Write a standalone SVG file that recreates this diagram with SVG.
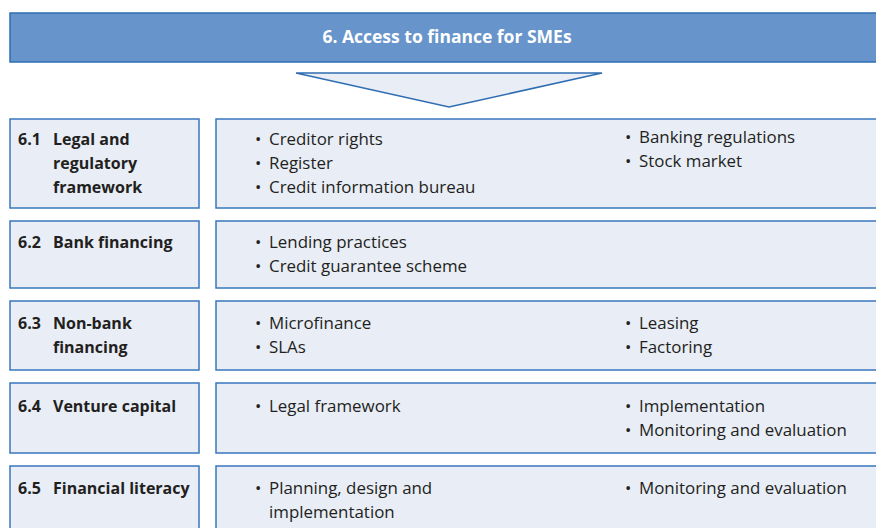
<svg xmlns="http://www.w3.org/2000/svg" width="876" height="528" viewBox="0 0 876 528">
<style>
.hdr{fill:#6794ca;stroke:#2f6db3;stroke-width:1.5}
.box{fill:#e8edf6;stroke:#3877bd;stroke-width:1.5}
.tri{fill:#e8edf6;stroke:#2f6db3;stroke-width:1.5}
.t{font-family:"Open Sans","Noto Sans",sans-serif;font-size:16.9px;fill:#231f20}
.b{font-weight:bold;font-size:16px}
.w{font-family:"Open Sans","Noto Sans",sans-serif;font-size:17.5px;font-weight:bold;fill:#ffffff}
</style>
<rect width="876" height="528" fill="#ffffff"/>
<g id="header">
<rect class="hdr" x="10" y="13" width="880" height="49"/>
<text class="w" x="447" y="43" text-anchor="middle">6. Access to finance for SMEs</text>
</g>
<g id="connectors">
<polygon class="tri" points="296,73 602,73 449,107"/>
</g>
<g id="n61">
<rect class="box" x="10" y="119" width="189" height="89"/>
<text class="t b" x="18" y="145">6.1</text>
<text class="t b" x="53" y="145">Legal and</text>
<text class="t b" x="53" y="169">regulatory</text>
<text class="t b" x="53" y="193">framework</text>
</g>
<g id="d61">
<rect class="box" x="216" y="119" width="680" height="89"/>
<text class="t" x="255" y="145">•</text><text class="t" x="269" y="145">Creditor rights</text>
<text class="t" x="255" y="169">•</text><text class="t" x="269" y="169">Register</text>
<text class="t" x="255" y="193">•</text><text class="t" x="269" y="193">Credit information bureau</text>
<text class="t" x="625" y="143">•</text><text class="t" x="639" y="143">Banking regulations</text>
<text class="t" x="625" y="167">•</text><text class="t" x="639" y="167">Stock market</text>
</g>
<g id="n62">
<rect class="box" x="10" y="221" width="189" height="67"/>
<text class="t b" x="18" y="248">6.2</text>
<text class="t b" x="53" y="248">Bank financing</text>
</g>
<g id="d62">
<rect class="box" x="216" y="221" width="680" height="67"/>
<text class="t" x="255" y="248">•</text><text class="t" x="269" y="248">Lending practices</text>
<text class="t" x="255" y="272">•</text><text class="t" x="269" y="272">Credit guarantee scheme</text>
</g>
<g id="n63">
<rect class="box" x="10" y="301" width="189" height="69"/>
<text class="t b" x="18" y="329">6.3</text>
<text class="t b" x="53" y="329">Non-bank</text>
<text class="t b" x="53" y="353">financing</text>
</g>
<g id="d63">
<rect class="box" x="216" y="301" width="680" height="69"/>
<text class="t" x="255" y="329">•</text><text class="t" x="269" y="329">Microfinance</text>
<text class="t" x="255" y="353">•</text><text class="t" x="269" y="353">SLAs</text>
<text class="t" x="625" y="329">•</text><text class="t" x="639" y="329">Leasing</text>
<text class="t" x="625" y="353">•</text><text class="t" x="639" y="353">Factoring</text>
</g>
<g id="n64">
<rect class="box" x="10" y="383" width="189" height="70"/>
<text class="t b" x="18" y="412">6.4</text>
<text class="t b" x="53" y="412">Venture capital</text>
</g>
<g id="d64">
<rect class="box" x="216" y="383" width="680" height="70"/>
<text class="t" x="255" y="412">•</text><text class="t" x="269" y="412">Legal framework</text>
<text class="t" x="625" y="412">•</text><text class="t" x="639" y="412">Implementation</text>
<text class="t" x="625" y="436">•</text><text class="t" x="639" y="436">Monitoring and evaluation</text>
</g>
<g id="n65">
<rect class="box" x="10" y="466" width="189" height="80"/>
<text class="t b" x="18" y="494">6.5</text>
<text class="t b" x="53" y="494">Financial literacy</text>
</g>
<g id="d65">
<rect class="box" x="216" y="466" width="680" height="80"/>
<text class="t" x="255" y="494">•</text><text class="t" x="269" y="494">Planning, design and</text>
<text class="t" x="269" y="518">implementation</text>
<text class="t" x="625" y="494">•</text><text class="t" x="639" y="494">Monitoring and evaluation</text>
</g>
</svg>
